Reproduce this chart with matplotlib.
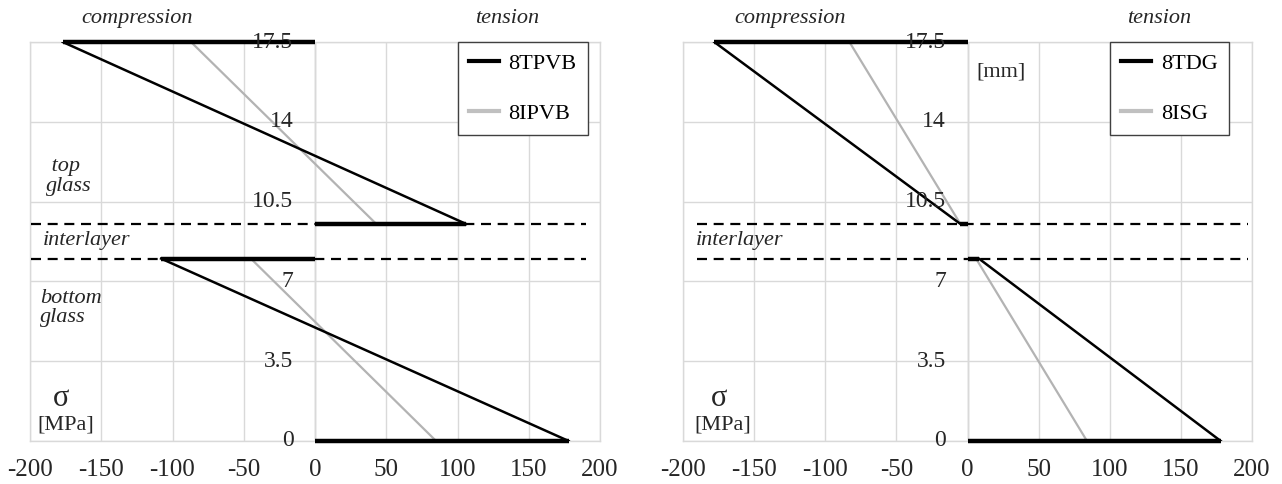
import matplotlib.pyplot as plt
from matplotlib.lines import Line2D

plt.rcParams['font.family'] = ['Liberation Serif', 'DejaVu Serif']
plt.rcParams['axes.unicode_minus'] = False

# layer heights [mm]
h_bottom = 8.0
h_inter = 9.52
h_top = 17.5

x_ticks = [-200, -150, -100, -50, 0, 50, 100, 150, 200]
x_labels = ['-200', '-150', '-100', '-50', '0', '50', '100', '150', '200']
y_ticks = [0, 3.5, 7, 10.5, 14, 17.5]
y_labels = ['0', '3.5', '7', '10.5', '14', '17.5']

# stress [MPa]: top glass (upper face, lower face), bottom glass (upper face, lower face)
tpvb = [-177, 106, -108, 178]
ipvb = [-87, 43, -45, 85]
tdg = [-178, -5, 8, 178]
isg = [-83, -5, 6, 84]

txt_col = '#262626'
grid_col = '#d9d9d9'


def profile(ax, s, color, lw, closing):
    ax.plot([s[0], s[1]], [h_top, h_inter], color=color, lw=lw, zorder=4)
    ax.plot([s[2], s[3]], [h_bottom, 0], color=color, lw=lw, zorder=4)
    if closing:
        for x, y in zip(s, [h_top, h_inter, h_bottom, 0]):
            ax.plot([0, x], [y, y], color=color, lw=3.2, zorder=5,
                    solid_capstyle='butt', clip_on=False)


def panel(ax, dark, light, names, dash_x):
    ax.set_xlim(-200, 200)
    ax.set_ylim(0, h_top)
    ax.set_xticks(x_ticks)
    ax.set_xticklabels(x_labels, fontsize=18, color=txt_col)
    ax.set_yticks(y_ticks)
    ax.tick_params(length=0, labelleft=False, pad=13)
    ax.grid(color=grid_col, lw=1)
    for sp in ax.spines.values():
        sp.set_color(grid_col)
        sp.set_linewidth(1)
    ax.axvline(0, color='#c4c4c4', lw=1, zorder=1)

    for y in [h_inter, h_bottom]:
        ax.plot(dash_x, [y, y], color='black', lw=1.6, ls=(0, (4.5, 3.0)),
                zorder=3)

    profile(ax, light, '#b3b3b3', 1.6, False)
    profile(ax, dark, 'black', 1.8, True)

    for y, lab in zip(y_ticks, y_labels):
        ax.annotate(lab, (0, y), xytext=(-15.5, 0), textcoords='offset points',
                    ha='right', va='center', fontsize=17, color=txt_col,
                    zorder=6)

    ax.text(-125, 18.55, 'compression', style='italic', fontsize=16,
            ha='center', va='center', color=txt_col)
    ax.text(135, 18.55, 'tension', style='italic', fontsize=16,
            ha='center', va='center', color=txt_col)

    handles = [Line2D([], [], color='black', lw=3),
               Line2D([], [], color='#c0c0c0', lw=3)]
    leg = ax.legend(handles, names, loc='upper left', bbox_to_anchor=(0.75, 1.0),
                    borderaxespad=0, fontsize=16, handlelength=1.35,
                    handletextpad=0.45, labelspacing=1.35, borderpad=0.5,
                    fancybox=False, framealpha=1, edgecolor='#404040')
    leg.get_frame().set_linewidth(1.0)
    leg.set_zorder(7)


fig = plt.figure(figsize=(12.82, 4.84), dpi=100)
ax1 = fig.add_axes([30 / 1282, 43 / 484, 570 / 1282, 399 / 484])
ax2 = fig.add_axes([683 / 1282, 43 / 484, 569 / 1282, 399 / 484])

panel(ax1, tpvb, ipvb, ['8TPVB', '8IPVB'], [-199, 190])
panel(ax2, tdg, isg, ['8TDG', '8ISG'], [-190, 197])

ax1.text(-189, 11.6, ' top\nglass', style='italic', fontsize=16,
         ha='left', va='center', linespacing=1.05, color=txt_col)
ax1.text(-191, 8.8, 'interlayer', style='italic', fontsize=16,
         ha='left', va='center', color=txt_col)
ax1.text(-193, 5.85, 'bottom\nglass', style='italic', fontsize=16,
         ha='left', va='center', linespacing=1.0, color=txt_col)
ax2.text(-191, 8.8, 'interlayer', style='italic', fontsize=16,
         ha='left', va='center', color=txt_col)
ax2.text(6, 16.2, '[mm]', fontsize=16, ha='left', va='center', color=txt_col)

for ax, xs in [(ax1, -178), (ax2, -175)]:
    ax.text(xs, 1.85, 'σ', fontsize=22, ha='center', va='center', color=txt_col)
    ax.text(xs + 3, 0.7, '[MPa]', fontsize=16, ha='center', va='center',
            color=txt_col)

fig.savefig('out.png', dpi=100)
